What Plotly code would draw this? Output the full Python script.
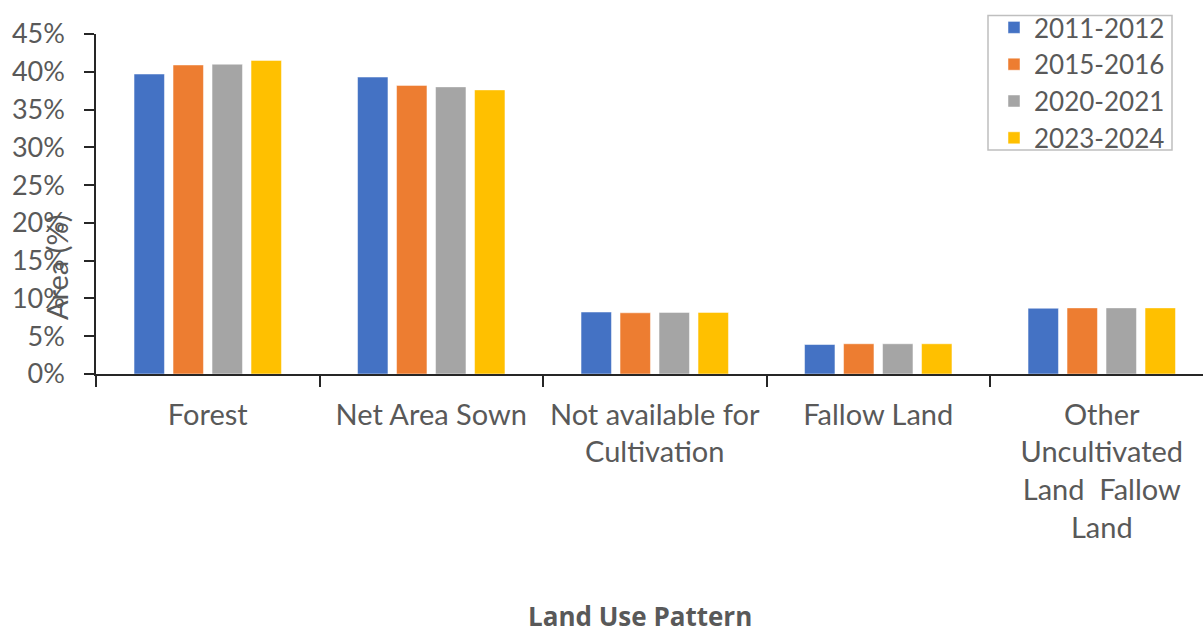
import plotly.graph_objects as go

categories = [
    "Forest",
    "Net Area Sown",
    "Not available for<br>Cultivation",
    "Fallow Land",
    "Other<br>Uncultivated<br>Land  Fallow<br>Land",
]
periods = ["2011-2012", "2015-2016", "2020-2021", "2023-2024"]
values_2011_2012 = [39.7, 39.3, 8.2, 3.9, 8.7]
values_2015_2016 = [40.9, 38.2, 8.1, 4.0, 8.75]
values_2020_2021 = [41.0, 38.0, 8.15, 4.0, 8.75]
values_2023_2024 = [41.5, 37.6, 8.15, 4.0, 8.75]
series = [values_2011_2012, values_2015_2016, values_2020_2021, values_2023_2024]
colors = ["#4472C4", "#ED7D31", "#A5A5A5", "#FFC000"]

FONT = "Lato, 'Open Sans', sans-serif"
TEXT_COLOR = "#595959"

# plot area in pixels: left 96, right 1203, top 34, bottom 374
PL, PR, PT, PB = 96, 1203, 34, 374


def px_x(x):
    return (x - PL) / (PR - PL)


def px_y(y):
    return (PB - y) / (PB - PT)


fig = go.Figure()
for name, vals, col in zip(periods, series, colors):
    fig.add_trace(go.Bar(
        name=name,
        x=categories,
        y=[v / 100 for v in vals],
        marker=dict(color=col, line=dict(color="rgba(255,255,255,0.6)", width=0.8)),
    ))

fig.update_layout(
    width=1203,
    height=636,
    margin=dict(l=PL, r=1203 - PR, t=PT, b=636 - PB),
    plot_bgcolor="white",
    paper_bgcolor="white",
    barmode="group",
    bargap=0.302,
    bargroupgap=0.22,
    font=dict(family=FONT, color=TEXT_COLOR, size=26),
    showlegend=True,
    legend=dict(
        x=px_x(1170), xanchor="right",
        y=px_y(4), yanchor="top",
        borderwidth=0,
        bgcolor="rgba(0,0,0,0)",
        font=dict(family=FONT, size=26, color=TEXT_COLOR),
        tracegroupgap=0,
        itemwidth=30,
    ),
    xaxis=dict(
        range=[-0.5, 4.453],
        showline=True, linecolor="#262626", linewidth=1.5,
        ticks="outside", ticklen=11, tickcolor="#262626", tickwidth=1.5,
        tickson="boundaries",
        showgrid=False,
        tickfont=dict(family=FONT, size=29, color=TEXT_COLOR),
        tickangle=0,
        ticklabelstandoff=14,
    ),
    yaxis=dict(
        range=[0, 0.45],
        tickvals=[i / 100 for i in range(0, 50, 5)],
        tickformat=".0%",
        showline=True, linecolor="#262626", linewidth=1.5,
        ticks="outside", ticklen=10, tickcolor="#262626", tickwidth=1.5,
        showgrid=False, zeroline=False,
        tickfont=dict(family=FONT, size=27, color=TEXT_COLOR),
        ticklabelstandoff=14,
    ),
)

# legend frame
fig.add_shape(
    type="rect", xref="paper", yref="paper",
    x0=px_x(988), x1=px_x(1172), y0=px_y(150), y1=px_y(15.5),
    line=dict(color="#BFBFBF", width=1.5),
    fillcolor="rgba(0,0,0,0)",
    layer="below",
)

fig.add_annotation(
    text="Area (%)", textangle=-90,
    xref="paper", yref="paper",
    x=px_x(56), y=px_y(268),
    xanchor="center", yanchor="middle",
    showarrow=False,
    font=dict(family=FONT, size=29, color=TEXT_COLOR),
)
fig.add_annotation(
    text="<b>Land Use Pattern</b>",
    xref="paper", yref="paper",
    x=px_x(640), y=px_y(636),
    xanchor="center", yanchor="bottom",
    showarrow=False,
    font=dict(family="'Open Sans', sans-serif", size=26, color=TEXT_COLOR),
)

fig.write_html("out.html")
